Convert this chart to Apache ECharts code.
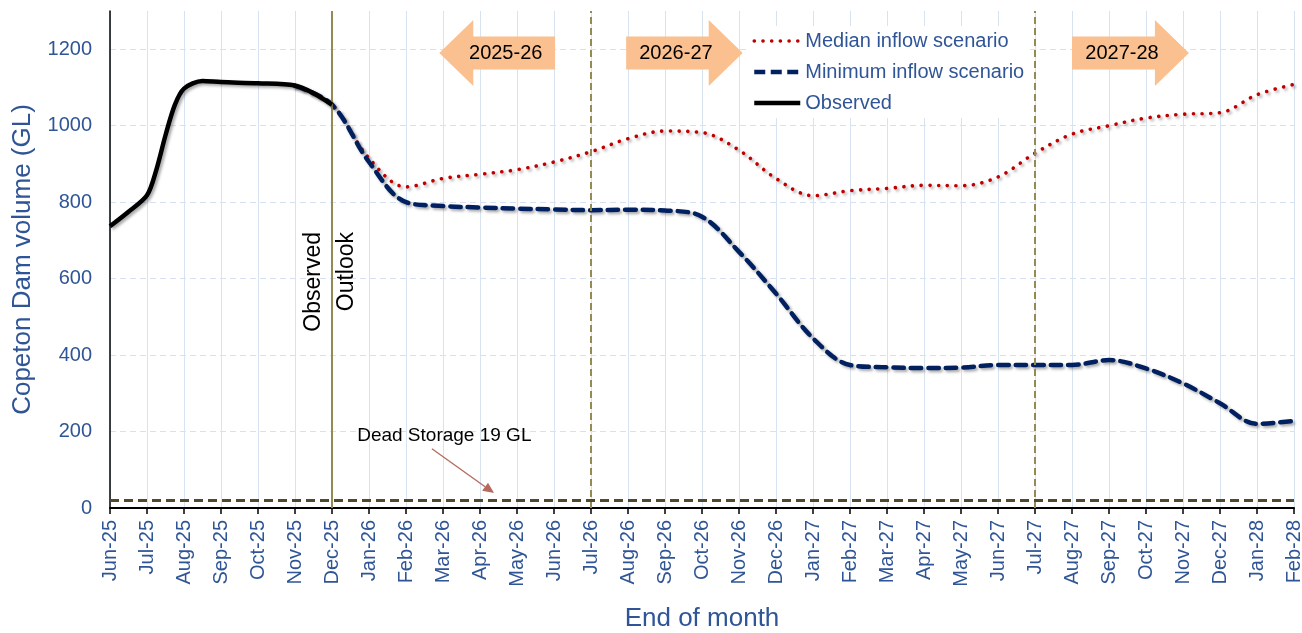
<!DOCTYPE html>
<html>
<head>
<meta charset="utf-8">
<script src="https://cdn.jsdelivr.net/npm/echarts@6/dist/echarts.min.js"></script>
<style>
html,body{margin:0;padding:0;background:#fff;}
#chart{width:1302px;height:633px;}
</style>
</head>
<body>
<div id="chart"></div>
<script>
// ---------- DATA ----------
const months = ['Jun-25','Jul-25','Aug-25','Sep-25','Oct-25','Nov-25','Dec-25','Jan-26','Feb-26','Mar-26','Apr-26','May-26','Jun-26','Jul-26','Aug-26','Sep-26','Oct-26','Nov-26','Dec-26','Jan-27','Feb-27','Mar-27','Apr-27','May-27','Jun-27','Jul-27','Aug-27','Sep-27','Oct-27','Nov-27','Dec-27','Jan-28','Feb-28'];

// observed storage (month position from Jun-25, GL)
const observedMonth  = [0, 0.5, 1, 1.25, 1.5, 1.75, 2, 2.5, 3, 4, 5, 5.5, 6];
const observedVolume = [737, 775, 818, 884, 975, 1054, 1097, 1117, 1114, 1111, 1105, 1085, 1055];

// scenarios from Nov-25 (month position 5) to Feb-28 (32)
const scenarioMonth  = [5,6,7,8,9,10,11,12,13,14,15,16,17,18,19,20,21,22,23,24,25,26,27,28,29,30,31,32];
const medianVolume   = [1104,1055,915,840,862,873,885,905,932,966,986,982,936,862,817,830,836,844,843,866,928,978,1000,1020,1030,1034,1081,1108];
const minimumVolume  = [1104,1055,905,800,790,786,783,781,779,780,778,762,670,561,444,374,368,366,367,374,374,374,387,365,326,274,220,228];

const deadStorage = 19;           // GL
const outlookStart = 6;           // Dec-25
const waterYearStarts = [13, 25]; // Jul-26, Jul-27
const periodLabels = ['2025-26', '2026-27', '2027-28'];
const periodTail = [12.03, 13.95, 26.0];
const periodTip  = [8.9, 17.1, 29.16];
const periodLevel = 1190;

// ---------- CHART ----------
const FONT = '"Liberation Sans", Arial, Helvetica, sans-serif';
const BLUE = '#2f5597';
const OLIVE = '#948a54';

const zip = (xs, ys) => xs.map((x, i) => [x, ys[i]]);
const shadow = {shadowColor:'rgba(0,0,0,0.35)', shadowBlur:3, shadowOffsetX:2, shadowOffsetY:2};

const medianStyle  = {color:'#c00000', width:3.6, type:[0.1, 8.6], cap:'round'};
const minimumStyle = {color:'#002060', width:4.5, type:[10.5, 7], cap:'round'};
const observedStyle = {color:'#000', width:4.5, type:'solid'};

const chart = echarts.init(document.getElementById('chart'), null, {renderer:'canvas'});

const option = {
  animation: false,
  grid: {left:110, right:8, top:11, bottom:125, containLabel:false, outerBoundsMode:'none'},
  legend: {
    orient:'vertical', left:746, top:26, padding:[5,6,5,6],
    backgroundColor:'#ffffff',
    itemWidth:46, itemHeight:20, itemGap:11,
    itemStyle:{color:'transparent', borderColor:'transparent', borderWidth:0, opacity:0},
    textStyle:{color:BLUE, fontSize:20, fontFamily:FONT},
    data:[
      {name:'Median inflow scenario', lineStyle:medianStyle},
      {name:'Minimum inflow scenario', lineStyle:{color:'#002060', width:4.5, type:[11, 5.5], cap:'butt'}},
      {name:'Observed', lineStyle:observedStyle}
    ]
  },
  xAxis: {
    type:'value', min:0, max:months.length-1, interval:1,
    axisLine:{show:true, onZero:false, lineStyle:{color:'#000', width:2}},
    axisTick:{show:true, length:6, lineStyle:{color:'#000', width:1.5}},
    axisLabel:{rotate:90, margin:12, color:BLUE, fontSize:20, fontFamily:FONT,
      formatter:(v) => months[Math.round(v)] || ''},
    splitLine:{show:true, lineStyle:{color:'#d8e3f2', width:1}},
    name:'End of month', nameLocation:'middle', nameGap:98,
    nameTextStyle:{color:BLUE, fontSize:26, fontFamily:FONT, verticalAlign:'top'}
  },
  yAxis: {
    type:'value', min:0, max:1300, interval:200,
    axisLine:{show:true, lineStyle:{color:'#000', width:1.5}},
    axisTick:{show:false},
    axisLabel:{color:BLUE, fontSize:20, fontFamily:FONT, margin:18, showMaxLabel:false,
      formatter:(v) => String(v)},
    splitLine:{show:true, showMaxLine:false, lineStyle:{color:'#d5e1f2', type:[6,4], width:1}},
    name:'Copeton Dam volume (GL)', nameLocation:'middle', nameGap:74,
    nameTextStyle:{color:BLUE, fontSize:26, fontFamily:FONT}
  },
  series: [
    {
      name:'Median inflow scenario', type:'line', data:zip(scenarioMonth, medianVolume),
      smooth:0.35, symbol:'none', z:3,
      itemStyle:{color:'#c00000'},
      lineStyle:Object.assign({}, medianStyle, shadow)
    },
    {
      name:'Minimum inflow scenario', type:'line', data:zip(scenarioMonth, minimumVolume),
      smooth:0.35, symbol:'none', z:4,
      itemStyle:{color:'#002060'},
      lineStyle:Object.assign({}, minimumStyle, shadow)
    },
    {
      name:'Observed', type:'line', data:zip(observedMonth, observedVolume),
      smooth:0.3, symbol:'none', z:5,
      itemStyle:{color:'#000'},
      lineStyle:Object.assign({}, observedStyle, shadow)
    },
    {
      name:'markers', type:'line', data:[], z:2,
      markLine:{
        symbol:'none', silent:true, animation:false, label:{show:false},
        data:[
          {xAxis:outlookStart, lineStyle:{color:OLIVE, width:2, type:'solid'}},
          ...waterYearStarts.map(m => ({xAxis:m, lineStyle:{color:OLIVE, width:2, type:[7,4]}})),
          {yAxis:deadStorage, lineStyle:{color:'#4f4a2d', width:3, type:[9,5]}}
        ]
      }
    }
  ]
};
chart.setOption(option);

// ---------- ANNOTATIONS ----------
const px = (x, y) => chart.convertToPixel({gridIndex:0}, [x, y]);
const graphics = [];
periodLabels.forEach((lab, i) => {
  const t = px(periodTail[i], periodLevel);
  const p = px(periodTip[i], periodLevel);
  const dir = Math.sign(p[0] - t[0]);
  const yc = t[1], xt = t[0], xp = p[0], xn = xp - dir * 34;
  graphics.push({
    type:'polygon', z:10,
    shape:{points:[[xt,yc-16.5],[xn,yc-16.5],[xn,yc-33],[xp,yc],[xn,yc+33],[xn,yc+16.5],[xt,yc+16.5]]},
    style:{fill:'#fac090', stroke:'none'}
  });
  const tx = ((xt + xn) / 2 + (xt + xp) / 2) / 2;
  graphics.push({
    type:'text', z:11, x:tx, y:yc,
    style:{text:lab, font:'20px ' + FONT, fill:'#000', align:'center', verticalAlign:'middle', textAlign:'center', textVerticalAlign:'middle'}
  });
});

// Observed / Outlook labels
const ol = px(outlookStart, 722);
graphics.push({type:'text', z:11, x:ol[0]-18, y:ol[1], rotation:Math.PI/2,
  style:{text:'Observed', font:'23px ' + FONT, fill:'#000', align:'right', verticalAlign:'middle', textAlign:'right', textVerticalAlign:'middle'}});
graphics.push({type:'text', z:11, x:ol[0]+15, y:ol[1], rotation:Math.PI/2,
  style:{text:'Outlook', font:'23px ' + FONT, fill:'#000', align:'right', verticalAlign:'middle', textAlign:'right', textVerticalAlign:'middle'}});

// Dead storage annotation
const dt = px(6.68, 188);
graphics.push({type:'text', z:11, x:dt[0], y:dt[1],
  style:{text:'Dead Storage ' + deadStorage + ' GL', font:'19px ' + FONT, fill:'#000', align:'left', verticalAlign:'middle', textAlign:'left', textVerticalAlign:'middle'}});
const a0 = px(8.7, 155), a1 = px(10.38, 39);
const ang = Math.atan2(a1[1]-a0[1], a1[0]-a0[0]);
const hl = 11, hw = 5;
const bx = a1[0] - hl*Math.cos(ang), by = a1[1] - hl*Math.sin(ang);
graphics.push({type:'line', z:11, shape:{x1:a0[0], y1:a0[1], x2:bx, y2:by}, style:{stroke:'#b5695c', lineWidth:1.3}});
graphics.push({type:'polygon', z:11, shape:{points:[
  [a1[0], a1[1]],
  [bx + hw*Math.sin(ang), by - hw*Math.cos(ang)],
  [bx - hw*Math.sin(ang), by + hw*Math.cos(ang)]
]}, style:{fill:'#b5695c'}});

chart.setOption({graphic: graphics});
</script>
</body>
</html>
